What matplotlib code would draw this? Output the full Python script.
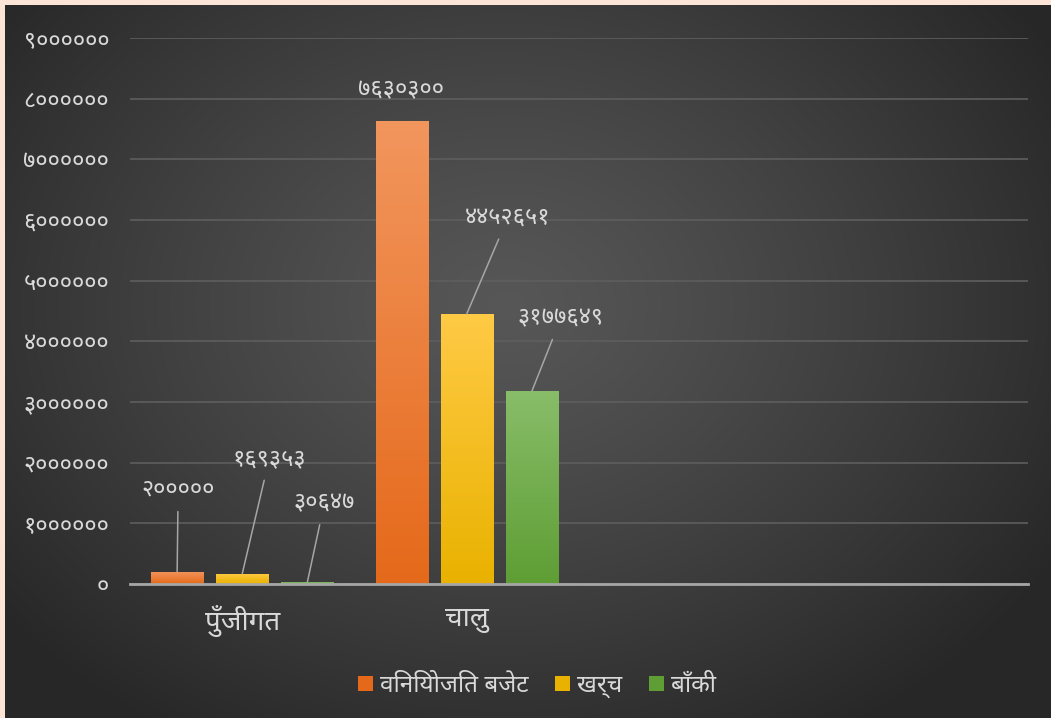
import matplotlib
matplotlib.use("Agg")
import matplotlib.pyplot as plt
import numpy as np
import warnings
warnings.filterwarnings("ignore")

# ---- data ----
categories = ["पुँजीगत", "चालु", "", ""]
series_names = ["विनियोजित बजेट", "खर्च", "बाँकी"]
allocated = [200000, 7630300]
spent = [169353, 4452651]
remaining = [30647, 3177649]
y_ticks = [0, 1000000, 2000000, 3000000, 4000000, 5000000, 6000000, 7000000, 8000000, 9000000]

# label offsets (pixels) for the data labels, per series per category
label_offsets = [
    [(1, 82), (-1, 31)],
    [(27, 115), (41, 96)],
    [(17, 79), (29, 73)],
]
show_leader = [[True, False], [True, True], [True, True]]

FONTS = ["Noto Sans Devanagari", "Mukta", "Hind", "Annapurna SIL", "FreeSans", "DejaVu Sans"]
plt.rcParams["font.family"] = FONTS

DEV = str.maketrans("0123456789", "०१२३४५६७८९")
def dev(n):
    return str(n).translate(DEV)

TXT = "#D9D9D9"
W, H = 1051, 718
fig = plt.figure(figsize=(W / 100, H / 100), dpi=100)
fig.patch.set_facecolor("#FCE4D6")

# background radial gradient
bg = fig.add_axes([5 / W, 0, 1 - 5 / W, 1 - 5 / H])
bg.set_axis_off()
yy, xx = np.mgrid[0:713, 0:1046]
cx, cy = 500, 300
r = np.sqrt(((xx - cx) / 640.0) ** 2 + ((yy - cy) / 500.0) ** 2)
r = np.clip(r, 0, 1)
c0, c1 = 0.34, 0.155
val = c0 + (c1 - c0) * r ** 1.2
bg.imshow(np.dstack([val, val, val]), extent=[0, 1, 0, 1], aspect="auto", origin="upper")
bg.set_xlim(0, 1); bg.set_ylim(0, 1)

ax = fig.add_axes([130 / W, 1 - 584 / H, (1028 - 130) / W, (584 - 38) / H])
ax.set_facecolor("none")
ax.patch.set_alpha(0)

x = np.arange(len(categories))
width = 0.232
step = 0.29
series = [allocated, spent, remaining]
tops = ["#F2965E", "#FFCA45", "#88BD69"]
bots = ["#E5691A", "#E9B200", "#5E9E34"]

for i, (vals, ct, cb) in enumerate(zip(series, tops, bots)):
    xs = x[:len(vals)] + (i - 1) * step
    bars = ax.bar(xs, vals, width, color=cb, label=series_names[i], zorder=3)
    for b in bars:
        h = b.get_height()
        x0 = b.get_x()
        grad = np.linspace(0, 1, 256)[:, None]
        c_top = np.array(matplotlib.colors.to_rgb(ct))
        c_bot = np.array(matplotlib.colors.to_rgb(cb))
        img = c_top[None, None, :] * (1 - grad[..., None]) + c_bot[None, None, :] * grad[..., None]
        im = ax.imshow(img, extent=[x0, x0 + b.get_width(), 0, h], aspect="auto",
                       origin="upper", zorder=3.5)
        im.set_clip_path(b)
    for j, (b, v) in enumerate(zip(bars, vals)):
        dx, dy = label_offsets[i][j]
        ap = dict(arrowstyle="-", color="#A6A6A6", lw=1.1, shrinkA=5, shrinkB=0) if show_leader[i][j] else None
        ax.annotate(dev(v), xy=(b.get_x() + b.get_width() / 2, v), xytext=(dx, dy),
                    textcoords="offset pixels", ha="center", va="center",
                    color=TXT, fontsize=17, arrowprops=ap, zorder=5)

ax.set_xlim(-0.5, len(categories) - 0.5)
ax.set_ylim(0, 9000000)
ax.set_yticks(y_ticks)
ax.set_yticklabels([dev(v) for v in y_ticks], color=TXT, fontsize=17)
ax.set_xticks(x)
ax.set_xticklabels(categories, color=TXT, fontsize=20)
ax.tick_params(axis="both", length=0)
ax.tick_params(axis="y", pad=15)
ax.tick_params(axis="x", pad=15)
ax.yaxis.grid(True, color="#5E5E5E", lw=1.2, zorder=0)
ax.set_axisbelow(True)
for s in ["top", "right", "left"]:
    ax.spines[s].set_visible(False)
ax.spines["bottom"].set_color("#A6A6A6")
ax.spines["bottom"].set_linewidth(2)
ax.spines["bottom"].set_zorder(4)

leg = fig.legend(loc="center", bbox_to_anchor=(537 / W, 1 - 686 / H), ncol=3, frameon=False,
                 fontsize=17.5, handlelength=0.6, handleheight=0.6, handletextpad=0.3,
                 columnspacing=1.1)
for t in leg.get_texts():
    t.set_color(TXT)
for hnd, ct in zip(leg.legend_handles, tops):
    hnd.set_edgecolor("none")

fig.savefig("out.png", dpi=100, facecolor=fig.get_facecolor())
